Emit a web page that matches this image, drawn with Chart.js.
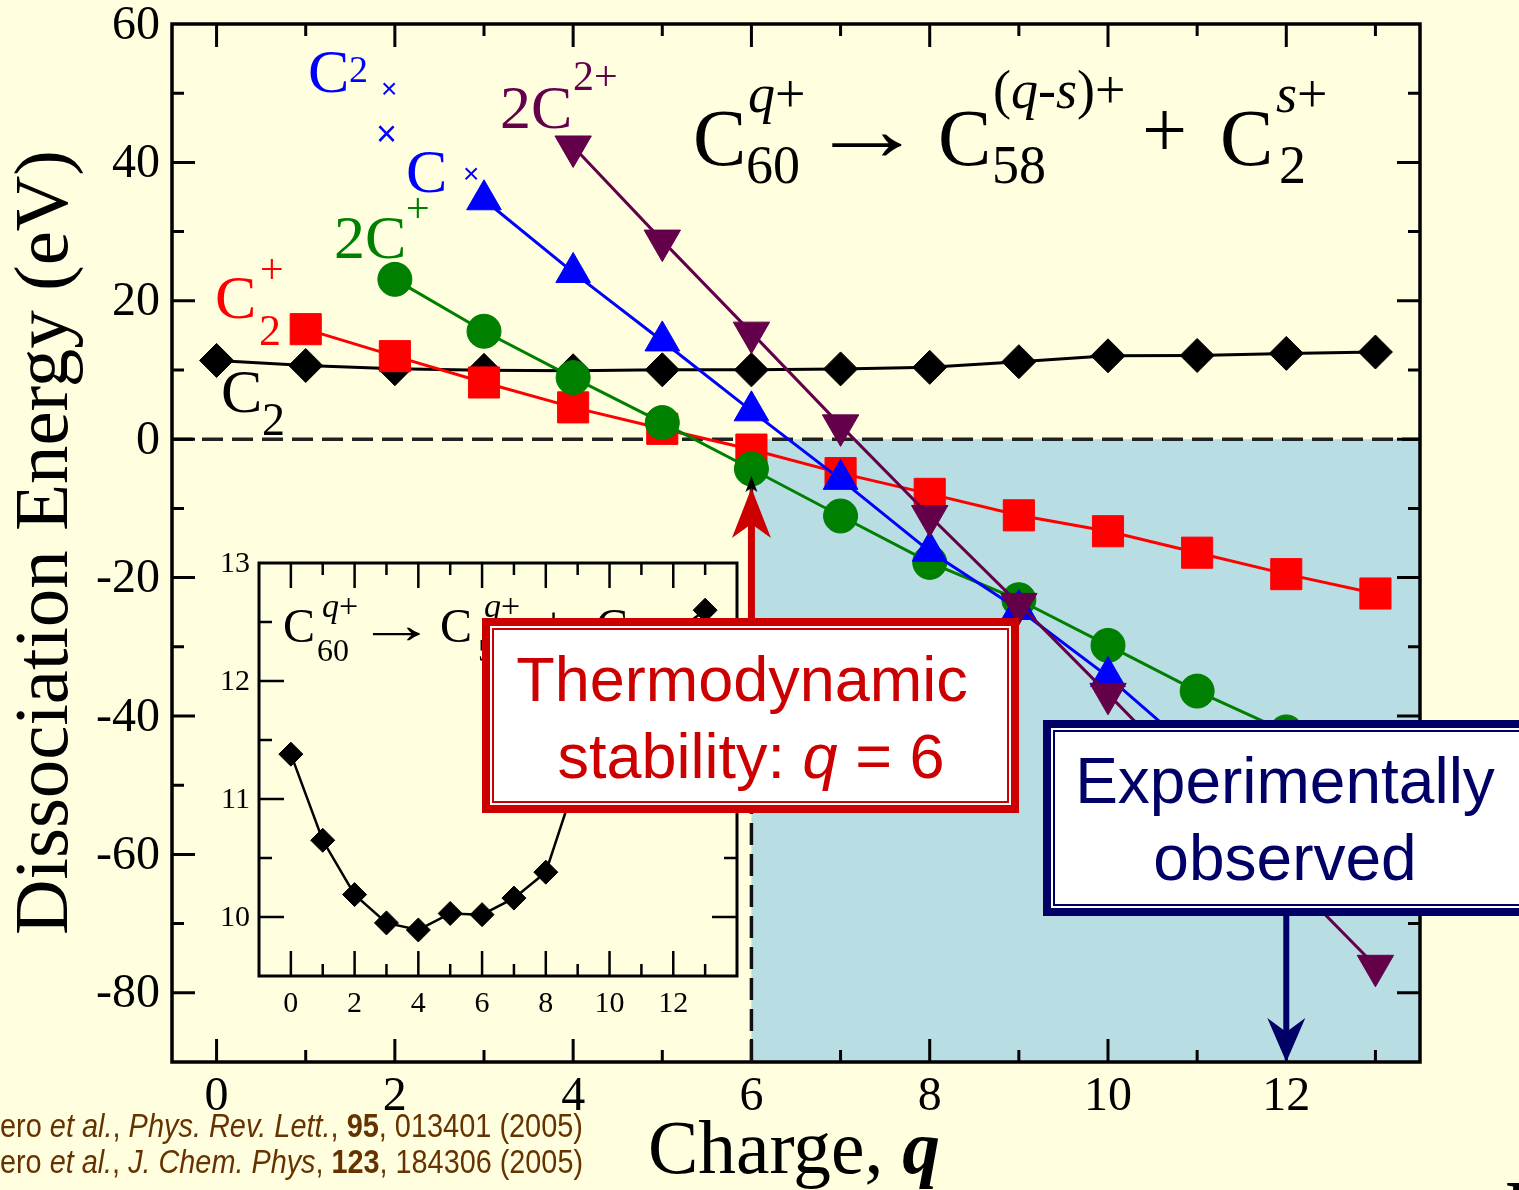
<!DOCTYPE html>
<html>
<head>
<meta charset="utf-8">
<title>Dissociation energy of C60 q+</title>
<script src="https://cdn.jsdelivr.net/npm/chart.js@4.4.1/dist/chart.umd.min.js"></script>
<style>
  html, body { margin: 0; padding: 0; background: #FFFFE0; }
  #wrap { position: relative; width: 1519px; height: 1190px; overflow: hidden; }
  canvas { position: absolute; }
  #main { left: 0; top: 0; }
  #inset { left: 200px; top: 540px; }
  #notes { left: 0; top: 0; pointer-events: none; }
</style>
</head>
<body>
<div id="wrap">
  <canvas id="main" width="1519" height="1190"></canvas>
  <canvas id="inset" width="560" height="480"></canvas>
  <canvas id="notes" width="1519" height="1190"></canvas>
</div>
<script>
// ---------- data: dissociation energies (eV) versus charge q ----------
const chargeC2 = [0, 1, 2, 3, 4, 5, 6, 7, 8, 9, 10, 11, 12, 13];
const energyC2 = [11.38, 10.65, 10.19, 9.95, 9.89, 10.03, 10.02, 10.16, 10.38, 11.2, 12.05, 12.1, 12.4, 12.6];

const chargeC2Plus = [1, 2, 3, 4, 5, 6, 7, 8, 9, 10, 11, 12, 13];
const energyC2Plus = [15.9, 12.0, 8.2, 4.6, 1.5, -1.5, -4.9, -7.9, -11.0, -13.3, -16.4, -19.5, -22.3];

const charge2CPlus = [2, 3, 4, 5, 6, 7, 8, 9, 10, 11, 12, 13];
const energy2CPlus = [23.1, 15.6, 8.9, 2.4, -4.3, -11.1, -17.8, -23.2, -29.8, -36.4, -42.3, -48.0];

const chargeC2PlusCPlus = [3, 4, 5, 6, 7, 8, 9, 10, 11, 12];
const energyC2PlusCPlus = [34.6, 24.1, 14.2, 4.1, -5.8, -16.2, -24.6, -34.3, -45.5, -56.5];

const charge2C2Plus = [4, 5, 6, 7, 8, 9, 10, 11, 12, 13];
const energy2C2Plus = [42.3, 28.7, 15.4, 2.0, -11.1, -23.8, -36.8, -50.0, -63.0, -76.1];

// ---------- axes ----------
const xTickValues = [0, 2, 4, 6, 8, 10, 12];
const yTickValues = [-80, -60, -40, -20, 0, 20, 40, 60];
const insetXTickValues = [0, 2, 4, 6, 8, 10, 12];
const insetYTickValues = [10, 11, 12, 13];
const stableCharge = 6;
const observedCharge = 12;

const SERIF = "'Liberation Serif','Times New Roman',serif";
const SANS = "'Liberation Sans',Arial,sans-serif";
const RED = '#FF0000', GREEN = '#008000', BLUE = '#0000FF', PURPLE = '#64004A';
const BOX_RED = '#CC0000', NAVY = '#000066';

const pts = (xs, ys) => xs.map((x, i) => ({ x: x, y: ys[i] }));

function font(size, style, weight, fam) {
  return (style || '') + ' ' + (weight || '') + ' ' + size + 'px ' + (fam || SERIF);
}
// draw one text piece; returns the end x
function put(ctx, s, x, y, size, color, style, weight, fam) {
  ctx.font = font(size, style, weight, fam);
  ctx.fillStyle = color;
  ctx.textAlign = 'left';
  ctx.textBaseline = 'alphabetic';
  ctx.fillText(s, x, y);
  return x + ctx.measureText(s).width;
}
// draw several differently styled pieces squeezed/stretched to a given width
function fitRuns(ctx, runs, x, y, width, color) {
  let total = 0;
  runs.forEach(([s, f]) => { ctx.font = f; total += ctx.measureText(s).width; });
  const sx = width ? width / total : 1;
  ctx.save();
  ctx.translate(x, y);
  ctx.scale(sx, 1);
  ctx.fillStyle = color;
  ctx.textAlign = 'left';
  ctx.textBaseline = 'alphabetic';
  let cx = 0;
  runs.forEach(([s, f]) => { ctx.font = f; ctx.fillText(s, cx, 0); cx += ctx.measureText(s).width; });
  ctx.restore();
}
// draw a single glyph so that its inked extent spans [x, x + width]
function fitInk(ctx, s, f, x, y, width, color) {
  ctx.save();
  ctx.font = f;
  ctx.textAlign = 'left';
  ctx.textBaseline = 'alphabetic';
  const m = ctx.measureText(s);
  const inkL = -m.actualBoundingBoxLeft, inkW = m.actualBoundingBoxRight + m.actualBoundingBoxLeft;
  const sx = width / inkW;
  ctx.translate(x, y);
  ctx.scale(sx, 1);
  ctx.fillStyle = color;
  ctx.fillText(s, -inkL, 0);
  ctx.restore();
}

// ---------- main chart decorations ----------
const mainDecor = {
  id: 'mainDecor',
  beforeDraw(chart) {
    const { ctx, chartArea: a, scales: { x, y } } = chart;
    ctx.save();
    ctx.fillStyle = '#FFFFE0';
    ctx.fillRect(0, 0, chart.width, chart.height);
    // region of charges beyond the stability limit
    ctx.fillStyle = '#B8DEE3';
    const x0 = x.getPixelForValue(stableCharge), y0 = y.getPixelForValue(0);
    ctx.fillRect(x0, y0, a.right - x0, a.bottom - y0);
    ctx.restore();
  },
  beforeDatasetsDraw(chart) {
    const { ctx, chartArea: a, scales: { y } } = chart;
    ctx.save();
    ctx.strokeStyle = '#222';
    ctx.lineWidth = 3.5;
    ctx.setLineDash([21, 9]);
    const y0 = y.getPixelForValue(0);
    ctx.beginPath(); ctx.moveTo(a.left, y0); ctx.lineTo(a.right, y0); ctx.stroke();
    ctx.restore();
  },
  afterDatasetsDraw(chart) {
    const { ctx, chartArea: a, scales: { x, y } } = chart;
    ctx.save();
    // frame
    ctx.strokeStyle = '#000';
    ctx.lineWidth = 3.5;
    ctx.strokeRect(a.left, a.top, a.right - a.left, a.bottom - a.top);
    // inward ticks on all four sides
    ctx.lineWidth = 3;
    ctx.beginPath();
    for (let v = -80; v < 60; v += 10) {
      const py = y.getPixelForValue(v);
      const len = (v % 20 === 0) ? 23 : 12;
      ctx.moveTo(a.left, py); ctx.lineTo(a.left + len, py);
      ctx.moveTo(a.right, py); ctx.lineTo(a.right - len, py);
    }
    for (let q = 0; q <= 13; q++) {
      const px = x.getPixelForValue(q);
      const len = (q % 2 === 0) ? 23 : 12;
      ctx.moveTo(px, a.top); ctx.lineTo(px, a.top + len);
      ctx.moveTo(px, a.bottom); ctx.lineTo(px, a.bottom - len);
    }
    ctx.stroke();
    // tick labels
    ctx.fillStyle = '#000';
    ctx.font = font(48);
    ctx.textAlign = 'right';
    ctx.textBaseline = 'middle';
    yTickValues.forEach(v => ctx.fillText(String(v), a.left - 12, y.getPixelForValue(v) + 2));
    ctx.textAlign = 'center';
    ctx.textBaseline = 'alphabetic';
    xTickValues.forEach(v => ctx.fillText(String(v), x.getPixelForValue(v), a.bottom + 48));

    // axis titles
    ctx.save();
    ctx.translate(67, 935);
    ctx.rotate(-Math.PI / 2);
    fitRuns(ctx, [['Dissociation Energy (eV)', font(77)]], 0, 0, 785, '#000');
    ctx.restore();
    fitRuns(ctx, [['Charge, ', font(76)], ['q', font(76, 'italic', 'bold')]], 648, 1173, 292, '#000');

    // reaction scheme
    let e;
    put(ctx, 'C', 693, 165, 80, '#000');
    e = put(ctx, 'q', 748, 112, 54, '#000', 'italic');
    put(ctx, '+', e, 112, 54, '#000');
    put(ctx, '60', 746, 183, 54, '#000');
    fitInk(ctx, '\u2192', font(90), 832, 160, 70, '#000');
    put(ctx, 'C', 938, 165, 80, '#000');
    e = put(ctx, '(', 993, 108, 54, '#000');
    e = put(ctx, 'q', e, 108, 54, '#000', 'italic');
    e = put(ctx, '-', e, 108, 54, '#000');
    e = put(ctx, 's', e, 108, 54, '#000', 'italic');
    e = put(ctx, ')+', e, 108, 54, '#000');
    put(ctx, '58', 992, 183, 54, '#000');
    put(ctx, '+', 1142, 157, 80, '#000');
    put(ctx, 'C', 1220, 165, 80, '#000');
    e = put(ctx, 's', 1276, 112, 54, '#000', 'italic');
    put(ctx, '+', e, 112, 54, '#000');
    put(ctx, '2', 1279, 183, 54, '#000');

    // series labels
    put(ctx, '2C', 500, 128, 62, PURPLE);
    put(ctx, '2+', 573, 90, 42, PURPLE);

    put(ctx, 'C', 308, 92, 62, BLUE);
    put(ctx, '2', 349, 82, 38, BLUE);
    put(ctx, '\u00D7', 381, 98, 28, BLUE, '', '', SANS);
    put(ctx, '\u00D7', 376, 146, 36, BLUE, '', '', SANS);
    put(ctx, 'C', 406, 192, 62, BLUE);
    put(ctx, '\u00D7', 463, 183, 28, BLUE, '', '', SANS);

    put(ctx, '2C', 334, 258, 62, GREEN);
    put(ctx, '+', 406, 222, 42, GREEN);

    put(ctx, 'C', 215, 318, 62, RED);
    put(ctx, '+', 260, 283, 42, RED);
    put(ctx, '2', 259, 345, 44, RED);

    put(ctx, 'C', 221, 412, 62, '#000');
    put(ctx, '2', 262, 435, 46, '#000');

    // references
    const F = 34;
    fitRuns(ctx, [
      ['ero ', font(F, '', '', SANS)], ['et al.', font(F, 'italic', '', SANS)], [', ', font(F, '', '', SANS)],
      ['Phys. Rev. Lett.', font(F, 'italic', '', SANS)], [', ', font(F, '', '', SANS)],
      ['95', font(F, '', 'bold', SANS)], [', 013401 (2005)', font(F, '', '', SANS)]
    ], 0, 1137, 583, '#663300');
    fitRuns(ctx, [
      ['ero ', font(F, '', '', SANS)], ['et al.', font(F, 'italic', '', SANS)], [', ', font(F, '', '', SANS)],
      ['J. Chem. Phys', font(F, 'italic', '', SANS)], [', ', font(F, '', '', SANS)],
      ['123', font(F, '', 'bold', SANS)], [', 184306 (2005)', font(F, '', '', SANS)]
    ], 0, 1173, 583, '#663300');
    put(ctx, 'D', 1506, 1229, 70, '#000', '', 'bold');
    ctx.restore();
  }
};

const lineSet = (xs, ys, color, style, radius, order, extra) => Object.assign({
  data: pts(xs, ys),
  showLine: true,
  borderColor: color,
  backgroundColor: color,
  pointBackgroundColor: color,
  pointBorderColor: color,
  borderWidth: 3,
  pointStyle: style,
  pointRadius: radius,
  pointBorderWidth: 1,
  order: order
}, extra || {});

const mainChart = new Chart(document.getElementById('main').getContext('2d'), {
  type: 'scatter',
  data: {
    datasets: [
      lineSet(chargeC2, energyC2, '#000000', 'rectRot', 17, 5),
      lineSet(chargeC2Plus, energyC2Plus, RED, 'rect', 22, 4),
      lineSet(charge2CPlus, energy2CPlus, GREEN, 'circle', 17, 3),
      lineSet(chargeC2PlusCPlus, energyC2PlusCPlus, BLUE, 'triangle', 20, 2),
      lineSet(charge2C2Plus, energy2C2Plus, PURPLE, 'triangle', 21, 1, { pointRotation: 180 })
    ]
  },
  options: {
    responsive: false,
    animation: false,
    devicePixelRatio: 1,
    events: [],
    layout: { padding: { left: 172, top: 24, right: 99, bottom: 128 } },
    plugins: { legend: { display: false }, tooltip: { enabled: false } },
    scales: {
      x: { type: 'linear', min: -0.5, max: 13.5, display: false },
      y: { type: 'linear', min: -90, max: 60, display: false }
    }
  },
  plugins: [mainDecor]
});

// ---------- inset: C60 q+ -> C58 q+ + C2 ----------
const INSET_LEFT = 200, INSET_TOP = 540;
const insetDecor = {
  id: 'insetDecor',
  afterDatasetsDraw(chart) {
    const { ctx, chartArea: a, scales: { x, y } } = chart;
    ctx.save();
    ctx.strokeStyle = '#000';
    ctx.lineWidth = 3;
    ctx.strokeRect(a.left, a.top, a.right - a.left, a.bottom - a.top);
    ctx.lineWidth = 2.5;
    ctx.beginPath();
    for (let q = 0; q <= 13; q++) {
      const px = x.getPixelForValue(q);
      const len = (q % 2 === 0) ? 25 : 12;
      ctx.moveTo(px, a.top); ctx.lineTo(px, a.top + len);
      ctx.moveTo(px, a.bottom); ctx.lineTo(px, a.bottom - len);
    }
    for (let v = 10; v < 13; v += 0.5) {
      const py = y.getPixelForValue(v);
      const len = (Math.abs(v - Math.round(v)) < 1e-6) ? 25 : 13;
      ctx.moveTo(a.left, py); ctx.lineTo(a.left + len, py);
      ctx.moveTo(a.right, py); ctx.lineTo(a.right - len, py);
    }
    ctx.stroke();
    ctx.fillStyle = '#000';
    ctx.font = font(30);
    ctx.textAlign = 'center';
    ctx.textBaseline = 'alphabetic';
    insetXTickValues.forEach(v => ctx.fillText(String(v), x.getPixelForValue(v), a.bottom + 36));
    ctx.textAlign = 'right';
    ctx.textBaseline = 'middle';
    insetYTickValues.forEach(v => ctx.fillText(String(v), a.left - 9, y.getPixelForValue(v) + 1));

    // reaction label, page coordinates
    ctx.translate(-INSET_LEFT, -INSET_TOP);
    let e;
    put(ctx, 'C', 283, 642, 48, '#000');
    e = put(ctx, 'q', 322, 617, 34, '#000', 'italic');
    put(ctx, '+', e, 617, 34, '#000');
    put(ctx, '60', 317, 661, 32, '#000');
    fitInk(ctx, '\u2192', font(54), 373, 643, 47, '#000');
    put(ctx, 'C', 440, 642, 48, '#000');
    e = put(ctx, 'q', 484, 617, 34, '#000', 'italic');
    put(ctx, '+', e, 617, 34, '#000');
    put(ctx, '58', 478, 661, 32, '#000');
    put(ctx, '+', 540, 640, 48, '#000');
    put(ctx, 'C', 596, 642, 48, '#000');
    put(ctx, '2', 632, 661, 32, '#000');
    ctx.restore();
  }
};

new Chart(document.getElementById('inset').getContext('2d'), {
  type: 'scatter',
  data: {
    datasets: [{
      data: pts(chargeC2, energyC2),
      showLine: true,
      borderColor: '#000',
      backgroundColor: '#000',
      pointBackgroundColor: '#000',
      pointBorderColor: '#000',
      borderWidth: 2.5,
      pointStyle: 'rectRot',
      pointRadius: 12,
      pointBorderWidth: 1
    }]
  },
  options: {
    responsive: false,
    animation: false,
    devicePixelRatio: 1,
    events: [],
    layout: { padding: { left: 59, top: 23, right: 23, bottom: 44 } },
    plugins: { legend: { display: false }, tooltip: { enabled: false } },
    scales: {
      x: { type: 'linear', min: -1, max: 14, display: false },
      y: { type: 'linear', min: 9.5, max: 13, display: false }
    }
  },
  plugins: [insetDecor]
});

// ---------- callouts drawn above both plots ----------
function stealthHead(ctx, x, tipY, dir, halfW, len, notch, color) {
  ctx.fillStyle = color;
  ctx.beginPath();
  ctx.moveTo(x, tipY);
  ctx.lineTo(x + halfW, tipY + dir * len);
  ctx.lineTo(x, tipY + dir * notch);
  ctx.lineTo(x - halfW, tipY + dir * len);
  ctx.closePath();
  ctx.fill();
}
function framedBox(ctx, x, y, w, h, color) {
  ctx.fillStyle = color;
  ctx.fillRect(x, y, w, h);
  ctx.fillStyle = '#FFFFFF';
  ctx.fillRect(x + 8, y + 8, w - 16, h - 16);
  ctx.strokeStyle = color;
  ctx.lineWidth = 2;
  ctx.strokeRect(x + 11, y + 11, w - 22, h - 22);
}

(function drawCallouts() {
  const ctx = document.getElementById('notes').getContext('2d');
  const xs = mainChart.scales.x, ys = mainChart.scales.y;
  const xStable = xs.getPixelForValue(stableCharge);
  const xObs = xs.getPixelForValue(observedCharge);
  const bottom = ys.getPixelForValue(-90);
  const tipStable = ys.getPixelForValue(-5.3);

  // dashed marker of the stability limit
  ctx.save();
  ctx.strokeStyle = '#111';
  ctx.lineWidth = 3.5;
  ctx.setLineDash([22, 9]);
  ctx.beginPath();
  ctx.moveTo(xStable, bottom);
  ctx.lineTo(xStable, tipStable + 12);
  ctx.stroke();
  ctx.restore();

  // red arrow up to q = 6
  ctx.save();
  ctx.fillStyle = BOX_RED;
  ctx.fillRect(xStable - 3.5, tipStable + 30, 7, 618 - (tipStable + 30));
  stealthHead(ctx, xStable, tipStable + 12, 1, 19.5, 50, 36, BOX_RED);
  stealthHead(ctx, xStable, tipStable, 1, 6, 16, 12, '#000');
  ctx.restore();

  // stability box
  framedBox(ctx, 482, 618, 537, 195, BOX_RED);
  ctx.textAlign = 'center';
  ctx.textBaseline = 'alphabetic';
  ctx.fillStyle = BOX_RED;
  ctx.font = font(63, '', '', SANS);
  ctx.fillText('Thermodynamic', 742, 701);
  {
    const a = 'stability: ', b = 'q', c = ' = 6';
    ctx.font = font(63, '', '', SANS); const wa = ctx.measureText(a).width, wc = ctx.measureText(c).width;
    ctx.font = font(63, 'italic', '', SANS); const wb = ctx.measureText(b).width;
    let sx = 751 - (wa + wb + wc) / 2;
    sx = put(ctx, a, sx, 778, 63, BOX_RED, '', '', SANS);
    sx = put(ctx, b, sx, 778, 63, BOX_RED, 'italic', '', SANS);
    put(ctx, c, sx, 778, 63, BOX_RED, '', '', SANS);
  }

  // observed box and arrow down to q = 12
  ctx.save();
  ctx.fillStyle = NAVY;
  ctx.fillRect(xObs - 3, 910, 6, bottom - 30 - 910);
  stealthHead(ctx, xObs, bottom, -1, 19, 44, 30, NAVY);
  ctx.restore();
  framedBox(ctx, 1043, 720, 500, 196, NAVY);
  ctx.textAlign = 'center';
  ctx.fillStyle = NAVY;
  ctx.font = font(64, '', '', SANS);
  ctx.fillText('Experimentally', 1285, 803);
  ctx.fillText('observed', 1285, 880);
})();
</script>
</body>
</html>
